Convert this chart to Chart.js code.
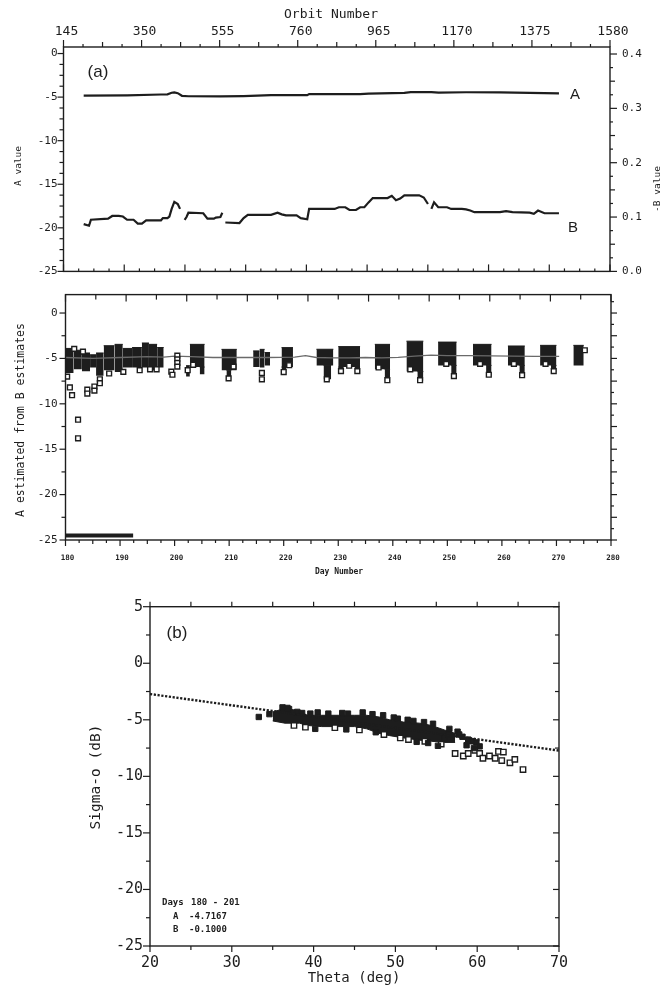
<!DOCTYPE html>
<html>
<head>
<meta charset="utf-8">
<script src="https://cdn.jsdelivr.net/npm/chart.js@4.4.0/dist/chart.umd.min.js"></script>
<style>
  html, body { margin: 0; padding: 0; background: #fff; }
  body { width: 664px; height: 987px; position: relative; overflow: hidden; }
  canvas { position: absolute; left: 0; }
</style>
</head>
<body>
<canvas id="panelA" width="664" height="290" style="top:0px"></canvas>
<canvas id="panelM" width="664" height="300" style="top:280px"></canvas>
<canvas id="panelB" width="664" height="397" style="top:590px"></canvas>
<script>
const INK = '#1d1d1d';
const MONO = '"DejaVu Sans Mono", "Liberation Mono", monospace';
const SANS = '"Liberation Sans", Arial, sans-serif';

// tick labels
const orbitTicks = [145, 350, 555, 760, 965, 1170, 1375, 1580];
const aTicks = [-25, -20, -15, -10, -5, 0];
const bTicks = [0, 0.1, 0.2, 0.3, 0.4];
const dayTicks = [180, 190, 200, 210, 220, 230, 240, 250, 260, 270, 280];
const estTicks = [-25, -20, -15, -10, -5, 0];
const thetaTicks = [20, 30, 40, 50, 60, 70];
const sigmaTicks = [-25, -20, -15, -10, -5, 0, 5];

// panel (a): A value and -B value against orbit number
const orbitA = [198, 312, 401, 418, 429, 436, 445, 456, 473, 557, 618, 690, 785, 790, 924, 946, 1040, 1057, 1111, 1130, 1202, 1291, 1369, 1446];
const aValue = [-4.82, -4.80, -4.70, -4.68, -4.50, -4.45, -4.55, -4.85, -4.90, -4.92, -4.88, -4.78, -4.78, -4.66, -4.66, -4.60, -4.52, -4.43, -4.43, -4.48, -4.44, -4.45, -4.52, -4.57];
const orbitB = [198, 212, 217, 262, 273, 290, 301, 312, 329, 340, 351, 362, 401, 406, 418, 423, 429, 436, 445, 451,
  457, 463, 468, 473, 512, 523, 540, 545, 557, 562, 566, 570, 607, 618, 629, 690, 707, 718, 729, 757,
  768, 785, 790, 857, 868, 885, 896, 913, 924, 935, 946, 957, 996, 1007, 1018, 1029, 1040, 1079, 1091, 1102,
  1106, 1111, 1118, 1129, 1152, 1163, 1191, 1202, 1213, 1224, 1291, 1307, 1324, 1369, 1380, 1391, 1408, 1446];
const bValue = [0.087, 0.084, 0.095, 0.097, 0.102, 0.102, 0.101, 0.095, 0.095, 0.088, 0.088, 0.094, 0.094, 0.098, 0.098, 0.101, 0.115, 0.128, 0.124, 0.115,
  null, 0.095, 0.100, 0.108, 0.107, 0.097, 0.097, 0.099, 0.100, 0.108, null, 0.090, 0.089, 0.098, 0.104, 0.104, 0.108, 0.105, 0.103, 0.103,
  0.098, 0.096, 0.115, 0.115, 0.118, 0.118, 0.113, 0.113, 0.118, 0.118, 0.127, 0.135, 0.135, 0.139, 0.131, 0.134, 0.140, 0.140, 0.136, 0.124,
  null, 0.115, 0.127, 0.118, 0.118, 0.115, 0.115, 0.114, 0.112, 0.109, 0.109, 0.111, 0.109, 0.108, 0.106, 0.112, 0.107, 0.107];

// middle panel: A estimated from B estimates against day number
const blockStart  = [180.0, 181.5, 183.0, 184.5, 185.6, 187.0, 189.0, 190.5, 192.2, 194.0, 195.3, 196.8, 202.1, 202.8, 204.6, 208.6, 209.5, 214.4, 215.6, 216.5, 219.6, 219.6, 226.0, 227.3, 230.0, 230.0, 233.0, 236.7, 238.5, 242.5, 244.5, 248.3, 250.7, 254.7, 257.1, 261.1, 263.2, 267.0, 269.0, 273.1];
const blockEnd    = [181.5, 183.0, 184.5, 185.6, 187.0, 189.0, 190.5, 192.2, 194.0, 195.3, 196.8, 198.0, 202.8, 205.5, 205.5, 211.4, 210.4, 215.6, 216.5, 217.5, 221.7, 220.5, 229.1, 228.7, 234.0, 231.0, 234.0, 239.5, 239.5, 245.6, 245.6, 251.7, 251.7, 258.1, 258.1, 264.2, 264.2, 270.0, 270.0, 275.0];
const blockTop    = [-3.9, -4.1, -4.4, -4.6, -4.4, -3.6, -3.45, -3.9, -3.8, -3.3, -3.45, -3.8, -5.8, -3.45, -5.95, -4.0, -6.3, -4.17, -4.0, -4.35, -3.81, -5.95, -3.99, -5.77, -3.7, -5.95, -5.95, -3.45, -6.2, -3.1, -6.45, -3.2, -5.77, -3.45, -5.77, -3.63, -5.77, -3.56, -5.77, -3.56];
const blockBottom = [-6.6, -6.2, -6.4, -6.0, -6.9, -6.3, -6.5, -6.0, -6.0, -6.0, -6.3, -6.0, -7.0, -5.95, -6.75, -6.3, -7.2, -5.95, -6.0, -5.77, -5.95, -6.6, -5.77, -7.3, -5.95, -6.5, -6.5, -6.2, -7.45, -6.45, -7.45, -5.77, -7.0, -5.77, -6.84, -5.77, -6.9, -5.77, -6.48, -5.77];
const squareDay = [180.3, 180.8, 181.2, 182.3, 182.3, 184.0, 184.0, 185.3, 185.3, 186.3, 186.3, 181.6, 183.2, 188.0, 190.6, 193.6, 195.5, 196.7, 199.4, 199.6,
  200.5, 200.5, 200.5, 200.5, 202.4, 209.9, 216.0, 216.0, 220.0, 227.9, 230.5, 233.5, 239.0, 245.0, 251.2, 257.6, 263.7, 269.5, 221.0, 232.0,
  249.8, 256.0, 262.2, 268.0, 203.4, 210.8, 237.4, 243.2, 275.2];
const squareVal = [-7.0, -8.2, -9.05, -11.75, -13.8, -8.44, -8.87, -8.1, -8.55, -7.3, -7.73, -3.95, -4.25, -6.66, -6.48, -6.3, -6.2, -6.2, -6.45, -6.8,
  -4.7, -5.1, -5.5, -5.9, -6.3, -7.2, -6.6, -7.3, -6.5, -7.3, -6.4, -6.4, -7.4, -7.4, -6.95, -6.8, -6.85, -6.4, -5.75, -5.8,
  -5.6, -5.6, -5.6, -5.6, -5.7, -5.9, -6.0, -6.2, -4.1];
const fitDay = [180, 185, 190, 195, 198, 200, 203, 207, 212, 217, 219.6, 222, 224, 226, 229, 232, 235, 238, 241, 244, 247, 250, 254, 258, 262, 266, 270.5];
const fitDayValue = [-4.9, -5.0, -4.9, -4.8, -4.85, -4.75, -4.8, -4.9, -4.9, -4.9, -4.88, -4.85, -4.7, -4.9, -4.95, -4.95, -4.9, -4.95, -4.88, -4.75, -4.63, -4.7, -4.7, -4.72, -4.75, -4.77, -4.77];
const periodDays = [180, 192.4];
const periodLevel = [-24.5, -24.5];

// panel (b): sigma-o against incidence angle
const bandTheta  = [35.0, 36.5, 38.3, 39.2, 41.0, 43.0, 45.0, 46.5, 48.0, 49.3, 51.0, 53.0, 54.4, 56.0, 57.3];
const bandTop    = [-4.3, -4.0, -4.2, -4.6, -4.6, -4.6, -4.6, -4.6, -4.75, -5.0, -5.2, -5.3, -5.5, -5.9, -6.2];
const bandBottom = [-5.1, -5.3, -5.3, -5.5, -5.6, -5.6, -5.6, -5.8, -6.2, -6.4, -6.6, -6.8, -6.9, -7.0, -7.0];
const fillTheta = [33.3, 34.6, 36.2, 37.0, 38.0, 39.6, 41.8, 44.2, 47.2, 49.8, 52.2, 54.6, 56.6, 57.6, 58.2, 58.9, 59.4, 59.9, 60.3, 59.6, 58.7, 55.2, 56.0,
  36.8, 38.6, 40.5, 43.5, 46.0, 48.5, 50.3, 51.5, 53.5, 40.2, 44.0, 47.6, 52.6, 54.0, 56.5, 57.8];
const fillSigma = [-4.75, -4.5, -3.9, -4.05, -4.3, -4.45, -4.45, -4.45, -4.5, -4.8, -5.1, -5.35, -5.8, -6.05, -6.5, -6.75, -6.9, -7.0, -7.35, -7.5, -7.25, -7.3, -6.6,
  -3.95, -4.4, -4.35, -4.4, -4.35, -4.6, -4.9, -5.0, -5.2, -5.8, -5.85, -6.1, -6.95, -7.05, -6.3, -6.3];
const openTheta = [37.6, 39.0, 42.6, 45.6, 48.6, 50.6, 51.6, 53.6, 55.6, 57.3, 58.3, 58.9, 59.7, 60.3, 60.7, 61.5, 62.2, 62.6, 63.0, 63.2, 64.0, 64.6, 65.6];
const openSigma = [-5.5, -5.65, -5.7, -5.9, -6.3, -6.6, -6.75, -6.9, -7.15, -7.98, -8.2, -7.98, -7.7, -7.98, -8.4, -8.2, -8.4, -7.8, -8.6, -7.85, -8.8, -8.5, -9.4];
const fitTheta = [20, 70];
const fitSigma = [-2.72, -7.72];

const pts = (xs, ys) => xs.map((x, i) => ({ x: x, y: ys[i] }));
const fixedTicks = list => scale => { scale.ticks = list.map(v => ({ value: v })); };

function axis(extra) {
  return Object.assign({
    type: 'linear',
    grid: { display: false, drawTicks: false },
    border: { display: false }
  }, extra);
}

// frame, tick marks and free text drawn over each chart
function decor(spec) {
  return {
    id: 'decor',
    afterDraw(chart) {
      const ctx = chart.ctx;
      const a = chart.chartArea;
      ctx.save();
      ctx.strokeStyle = INK;
      ctx.lineWidth = 1.4;
      ctx.strokeRect(a.left, a.top, a.right - a.left, a.bottom - a.top);
      ctx.lineWidth = 1.2;
      spec.ticks.forEach(t => {
        const n = Math.round((t.to - t.from) / t.step);
        const sign = t.out ? 1 : -1;
        for (let i = 0; i <= n; i++) {
          const v = t.from + i * t.step;
          const p = t.scale ? chart.scales[t.scale].getPixelForValue(v) : a.left + (a.right - a.left) * v;
          const len = t.len(i);
          ctx.beginPath();
          if (t.edge === 'left') { ctx.moveTo(a.left, p); ctx.lineTo(a.left - sign * len, p); }
          if (t.edge === 'right') { ctx.moveTo(a.right, p); ctx.lineTo(a.right + sign * len, p); }
          if (t.edge === 'top') { ctx.moveTo(p, a.top); ctx.lineTo(p, a.top - sign * len); }
          if (t.edge === 'bottom') { ctx.moveTo(p, a.bottom); ctx.lineTo(p, a.bottom + sign * len); }
          ctx.stroke();
        }
      });
      ctx.fillStyle = INK;
      spec.texts.forEach(t => {
        ctx.save();
        ctx.font = t.font;
        ctx.textAlign = t.align || 'center';
        ctx.textBaseline = 'middle';
        ctx.translate(t.x, t.y);
        if (t.rot) ctx.rotate(t.rot);
        ctx.fillText(t.text, 0, 0);
        ctx.restore();
      });
      ctx.restore();
    }
  };
}

const base = {
  responsive: false,
  animation: false,
  devicePixelRatio: 1,
  plugins: { legend: { display: false }, tooltip: { enabled: false } }
};

// ---- panel (a)
new Chart(document.getElementById('panelA'), {
  type: 'line',
  data: {
    datasets: [
      { data: pts(orbitA, aValue), yAxisID: 'y', borderColor: INK, borderWidth: 2.2, pointRadius: 0 },
      { data: pts(orbitB, bValue), yAxisID: 'y2', borderColor: INK, borderWidth: 2.2, pointRadius: 0, spanGaps: false }
    ]
  },
  options: Object.assign({}, base, {
    layout: { padding: { top: 0, left: 0, right: 0, bottom: 3 } },
    scales: {
      x: axis({
        position: 'top', min: 145, max: 1580,
        afterFit: s => { s.height = 47; },
        afterBuildTicks: fixedTicks(orbitTicks),
        ticks: { font: { family: MONO, size: 13 }, color: INK, padding: 7.5, maxRotation: 0, autoSkip: false, labelOffset: 3, callback: v => String(v) }
      }),
      y: axis({
        position: 'left', min: -25, max: 0.75,
        afterFit: s => { s.width = 63.5; },
        afterBuildTicks: fixedTicks(aTicks),
        ticks: { font: { family: MONO, size: 11 }, color: INK, padding: 6, callback: v => String(v) }
      }),
      y2: axis({
        position: 'right', min: 0, max: 0.4129,
        afterFit: s => { s.width = 54; },
        afterBuildTicks: fixedTicks(bTicks),
        ticks: { font: { family: MONO, size: 11 }, color: INK, padding: 12, callback: v => v.toFixed(1) }
      })
    }
  }),
  plugins: [decor({
    ticks: [
      { scale: 'x', from: 145, to: 1580, step: 51.25, edge: 'top', out: true, len: i => i % 4 === 0 ? 7 : (i % 2 === 0 ? 5 : 3) },
      { scale: 'y', from: -25, to: 0, step: 1.25, edge: 'left', out: true, len: i => i % 4 === 0 ? 6 : 4 },
      { scale: 'y2', from: 0, to: 0.4, step: 0.025, edge: 'right', out: true, len: i => i % 4 === 0 ? 7 : (i % 2 === 0 ? 5 : 3) },
      { scale: null, from: 0, to: 1, step: 1 / 36, edge: 'bottom', out: false, len: i => i % 4 === 0 ? 7 : 3 }
    ],
    texts: [
      { text: 'Orbit Number', x: 331, y: 15, font: '13px ' + MONO },
      { text: 'A value', x: 19, y: 166, rot: -Math.PI / 2, font: '9.5px ' + MONO },
      { text: '-B value', x: 658, y: 189, rot: -Math.PI / 2, font: '9.5px ' + MONO },
      { text: '(a)', x: 98, y: 72, font: '17px ' + SANS },
      { text: 'A', x: 575, y: 95, font: '15px ' + SANS },
      { text: 'B', x: 573, y: 228, font: '15px ' + SANS }
    ]
  })]
});

// ---- middle panel
const blockSets = blockStart.map((s, i) => ({
  data: [{ x: s, y: blockTop[i] }, { x: blockEnd[i], y: blockTop[i] }],
  borderColor: INK, borderWidth: 1, pointRadius: 0,
  backgroundColor: INK, fill: { value: blockBottom[i] }
}));

new Chart(document.getElementById('panelM'), {
  type: 'line',
  data: {
    datasets: [
      { data: pts(squareDay, squareVal), showLine: false, pointStyle: 'rect', pointRadius: 3.4,
        pointBackgroundColor: '#fff', pointBorderColor: INK, pointBorderWidth: 1.4 },
      { data: pts(periodDays, periodLevel), borderColor: INK, borderWidth: 4, pointRadius: 0, borderCapStyle: 'butt' },
      { data: pts(fitDay, fitDayValue), borderColor: '#6a6a6a', borderWidth: 1.3, pointRadius: 0 }
    ].concat(blockSets)
  },
  options: Object.assign({}, base, {
    layout: { padding: { top: 7, left: 0, right: 53, bottom: 0 } },
    scales: {
      x: axis({
        position: 'bottom', min: 180, max: 280,
        afterFit: s => { s.height = 40; },
        afterBuildTicks: fixedTicks(dayTicks),
        ticks: { font: { family: MONO, size: 7.5, weight: 'bold' }, color: INK, padding: 13.5, maxRotation: 0, autoSkip: false, labelOffset: 2, callback: v => String(v) }
      }),
      y: axis({
        position: 'left', min: -25, max: 2.03,
        afterFit: s => { s.width = 65.5; },
        afterBuildTicks: fixedTicks(estTicks),
        ticks: { font: { family: MONO, size: 11 }, color: INK, padding: 8, callback: v => String(v) }
      })
    }
  }),
  plugins: [decor({
    ticks: [
      { scale: null, from: 0, to: 1, step: 1 / 18, edge: 'top', out: false, len: i => i % 2 === 0 ? 7 : 5 },
      { scale: 'y', from: -25, to: 0, step: 2.5, edge: 'left', out: true, len: i => i % 2 === 0 ? 6 : 4 },
      { scale: 'y', from: -25, to: 1.25, step: 1.25, edge: 'right', out: true, len: i => i % 2 === 0 ? 6 : 3 },
      { scale: 'x', from: 180, to: 280, step: 2.5, edge: 'bottom', out: true, len: i => i % 4 === 0 ? 6 : (i % 2 === 0 ? 4 : 3) }
    ],
    texts: [
      { text: 'A estimated from B estimates', x: 21, y: 140, rot: -Math.PI / 2, font: '11.5px ' + MONO },
      { text: 'Day Number', x: 339, y: 292, font: 'bold 8px ' + MONO }
    ]
  })]
});

// ---- panel (b)
new Chart(document.getElementById('panelB'), {
  type: 'line',
  data: {
    datasets: [
      { data: pts(fitTheta, fitSigma), borderColor: INK, borderWidth: 2.4, borderDash: [2.2, 1.6], pointRadius: 0 },
      { data: pts(fillTheta, fillSigma), showLine: false, pointStyle: 'rect', pointRadius: 3.8,
        pointBackgroundColor: INK, pointBorderColor: INK, pointBorderWidth: 1 },
      { data: pts(openTheta, openSigma), showLine: false, pointStyle: 'rect', pointRadius: 3.8,
        pointBackgroundColor: '#fff', pointBorderColor: INK, pointBorderWidth: 1.4 },
      { data: pts(bandTheta, bandTop), borderColor: INK, borderWidth: 1, pointRadius: 0, backgroundColor: INK, fill: '+1' },
      { data: pts(bandTheta, bandBottom), borderColor: INK, borderWidth: 1, pointRadius: 0 }
    ]
  },
  options: Object.assign({}, base, {
    layout: { padding: { top: 16.7, left: 0, right: 105, bottom: 0 } },
    scales: {
      x: axis({
        position: 'bottom', min: 20, max: 70,
        afterFit: s => { s.height = 41; },
        afterBuildTicks: fixedTicks(thetaTicks),
        ticks: { font: { family: MONO, size: 15 }, color: INK, padding: 8, maxRotation: 0, autoSkip: false, callback: v => String(v) }
      }),
      y: axis({
        position: 'left', min: -25, max: 5,
        afterFit: s => { s.width = 150; },
        afterBuildTicks: fixedTicks(sigmaTicks),
        ticks: { font: { family: MONO, size: 15 }, color: INK, padding: 7, callback: v => String(v) }
      })
    }
  }),
  plugins: [decor({
    ticks: [
      { scale: 'x', from: 20, to: 70, step: 5, edge: 'bottom', out: true, len: i => i % 2 === 0 ? 6 : 4 },
      { scale: 'x', from: 20, to: 70, step: 5, edge: 'top', out: true, len: i => 5 },
      { scale: 'y', from: -25, to: 5, step: 2.5, edge: 'left', out: true, len: i => i % 2 === 0 ? 7 : 4 },
      { scale: 'y', from: -25, to: 5, step: 2.5, edge: 'right', out: false, len: i => i % 2 === 0 ? 6 : 4 }
    ],
    texts: [
      { text: '(b)', x: 177, y: 43, font: '17px ' + SANS },
      { text: 'Theta (deg)', x: 354, y: 388, font: '14px ' + MONO },
      { text: 'Sigma-o (dB)', x: 96, y: 187, rot: -Math.PI / 2, font: '14.5px ' + MONO },
      { text: 'Days', x: 162, y: 313, align: 'left', font: 'bold 9px ' + MONO },
      { text: '180 - 201', x: 191, y: 313, align: 'left', font: 'bold 9px ' + MONO },
      { text: 'A', x: 173, y: 326.7, align: 'left', font: 'bold 9px ' + MONO },
      { text: '-4.7167', x: 189, y: 326.7, align: 'left', font: 'bold 9px ' + MONO },
      { text: 'B', x: 173, y: 340, align: 'left', font: 'bold 9px ' + MONO },
      { text: '-0.1000', x: 189, y: 340, align: 'left', font: 'bold 9px ' + MONO }
    ]
  })]
});
</script>
</body>
</html>
